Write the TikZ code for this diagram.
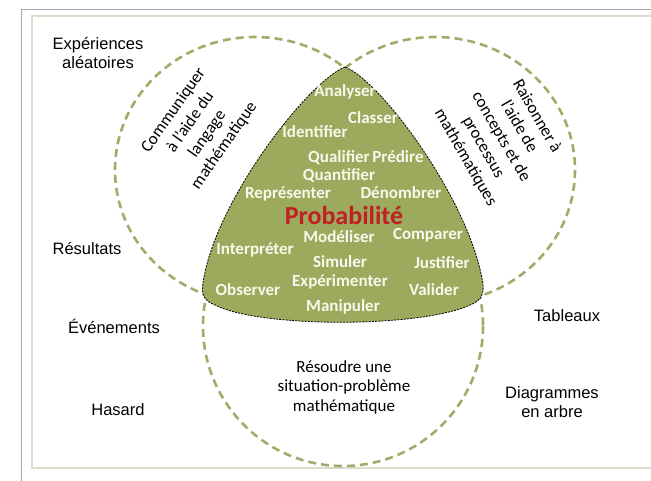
\documentclass[tikz,border=0pt]{standalone}
\usepackage{fontspec}
\setmainfont{Carlito}
\newfontfamily\arialf{Liberation Sans}
\definecolor{venn}{RGB}{160,173,106}
\definecolor{fillg}{RGB}{155,170,92}
\definecolor{probred}{RGB}{192,32,36}
\definecolor{wordw}{RGB}{248,248,236}
\definecolor{frameo}{RGB}{166,166,174}
\definecolor{framei}{RGB}{217,221,203}
\begin{document}
\begin{tikzpicture}[x=1pt,y=-1pt,
  vennline/.style={draw=venn, line width=2.6pt, dash pattern=on 8pt off 5pt},
  outer/.style={font=\arialf\fontsize{16.5}{19}\selectfont, align=center, inner sep=0pt},
  word/.style={font=\bfseries\fontsize{17}{20}\selectfont, text=wordw, inner sep=0pt},
  rot/.style={font=\fontsize{17}{20.6}\selectfont, align=center, inner sep=0pt},
]
\useasboundingbox (0,0) rectangle (651,480);
\fill[white] (0,0) rectangle (651,480);
\draw[frameo, line width=1pt] (660,9) -- (21,9) -- (21,490);
\draw[framei, line width=1.4pt] (660,16) -- (32,16) -- (32,468) -- (660,468);

\draw[vennline] (255,170) ellipse [x radius=140, y radius=133];
\draw[vennline] (435,170) ellipse [x radius=140, y radius=133];
\draw[vennline] (343,326) circle [radius=140];

\path[fill=fillg, draw=black, line width=0.8pt, dash pattern=on 2pt off 1.2pt]
  (345,67) .. controls (310,80) and (215,200) .. (203,283)
  .. controls (201,294) and (204,301) .. (215,305)
  .. controls (260,328) and (420,328) .. (470,305)
  .. controls (481,301) and (484,294) .. (483,284)
  .. controls (470,200) and (380,80) .. (345,67) -- cycle;

% outer labels
\node[outer] (exp) at (98,53) {Expériences\\aléatoires};
\node[outer] (res) at (87,249) {Résultats};
\node[outer] (eve) at (114,326) {Événements};
\node[outer] (has) at (118,410) {Hasard};
\node[outer] (tab) at (567,316) {Tableaux};
\node[outer] (diag) at (552,402) {Diagrammes\\en arbre};

% circle labels
\node[rot, rotate=55] (comm) at (199,128) {Communiquer\\à l'aide du\\langage\\mathématique};
\node[rot, rotate=-60] (rais) at (501,137) {Raisonner à\\l'aide de\\concepts et de\\processus\\mathématiques};
\node[rot, font=\fontsize{17}{19.5}\selectfont] (reso) at (344,387) {Résoudre une\\situation-problème\\mathématique};

% green words
\node[word] (w1) at (345,92) {Analyser};
\node[word] (w2) at (373,118) {Classer};
\node[word] (w3) at (315,132) {Identifier};
\node[word] (w4) at (339,158) {Qualifier};
\node[word] (w5) at (398,157) {Prédire};
\node[word] (w6) at (339,176) {Quantifier};
\node[word] (w7) at (288,194) {Représenter};
\node[word] (w8) at (401,193) {Dénombrer};
\node[inner sep=0pt, text=probred, font=\bfseries\fontsize{26}{30}\selectfont] (prob) at (344,215) {Probabilité};
\node[word] (w9) at (339,237) {Modéliser};
\node[word] (w10) at (428,235) {Comparer};
\node[word] (w11) at (255,250) {Interpréter};
\node[word] (w12) at (340,262) {Simuler};
\node[word] (w13) at (442,263) {Justifier};
\node[word] (w14) at (340,282) {Expérimenter};
\node[word] (w15) at (248,290) {Observer};
\node[word] (w16) at (434,290) {Valider};
\node[word] (w17) at (343,307) {Manipuler};
\end{tikzpicture}
\end{document}
